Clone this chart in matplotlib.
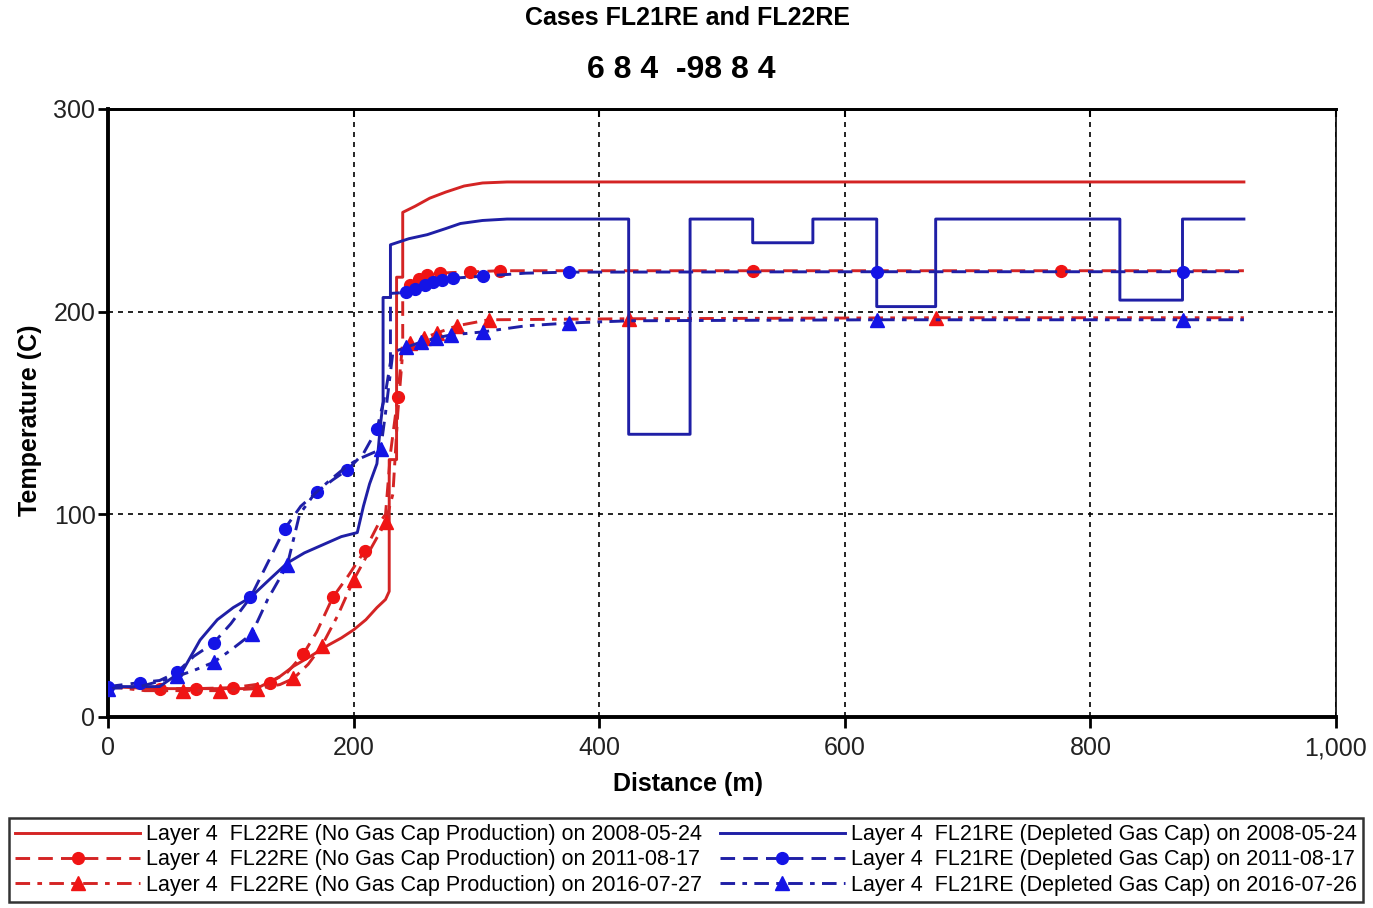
import numpy as np
import matplotlib
matplotlib.use("Agg")
import matplotlib.pyplot as plt
from matplotlib.ticker import FuncFormatter

# ---------------- data ----------------
title1 = "Cases FL21RE and FL22RE"
title2 = "6 8 4  -98 8 4"
xlabel = "Distance (m)"
ylabel = "Temperature (C)"

x_ticks = [0, 200, 400, 600, 800, 1000]
y_ticks = [0, 100, 200, 300]

labels = [
    "Layer 4  FL22RE (No Gas Cap Production) on 2008-05-24",
    "Layer 4  FL22RE (No Gas Cap Production) on 2011-08-17",
    "Layer 4  FL22RE (No Gas Cap Production) on 2016-07-27",
    "Layer 4  FL21RE (Depleted Gas Cap) on 2008-05-24",
    "Layer 4  FL21RE (Depleted Gas Cap) on 2011-08-17",
    "Layer 4  FL21RE (Depleted Gas Cap) on 2016-07-26",
]

# FL22RE 2008-05-24 (red solid)
r08_x = [0, 40, 80, 110, 124, 140, 151, 165, 178, 190, 200, 210, 219, 226, 229, 229,
         235, 235, 240, 240, 250, 262, 275, 290, 305, 325, 925]
r08_y = [15, 14, 14, 14, 15, 20, 25, 30, 35, 39, 43, 48, 54, 58, 62, 127,
         127, 217, 217, 249, 252, 256, 259, 262, 263.5, 264, 264]

# FL22RE 2011-08-17 (red dashed, circles)
r11_x = [0, 42, 72, 102, 132, 146, 159, 170, 183, 196, 209, 220, 226, 230, 236, 240,
         240, 246, 253, 260, 270, 280, 295, 319, 525, 776, 925]
r11_y = [15, 14, 14, 14.5, 17, 22, 31, 42, 59, 70, 82, 95, 100, 130, 158, 185,
         209, 213, 216, 218, 219, 219.3, 219.6, 220.2, 220.2, 220.2, 220.2]
r11_mk = [42, 72, 102, 132, 159, 183, 209, 236, 246, 253, 260, 270, 295, 319, 525, 776]

# FL22RE 2016-07-27 (red dash-dot, triangles)
r16_x = [0, 30, 61, 91, 121, 140, 151, 163, 174, 187, 200, 213, 226, 232, 236, 240,
         246, 257, 268, 284, 310, 424, 674, 925]
r16_y = [15, 13, 13, 13, 14, 16, 19, 26, 35, 50, 67.6, 82, 96, 110, 150, 180,
         184.5, 187, 189.5, 193, 196, 196.5, 197, 197]
r16_mk = [61, 91, 121, 151, 174, 200, 226, 246, 257, 268, 284, 310, 424, 674]

# FL21RE 2008-05-24 (blue solid)
b08_x = [0, 42, 61, 75, 89, 102, 116, 130, 146, 160, 175, 190, 203, 208, 213, 219,
         222, 224, 224, 230, 230, 245, 260, 275, 287, 305, 325, 424, 424, 474, 474,
         525, 525, 574, 574, 626, 626, 674, 674, 824, 824, 875, 875, 925]
b08_y = [15, 15, 23, 38, 48, 54, 59, 67, 76, 81, 85, 89, 91, 104, 115, 125,
         145, 155, 207, 207, 233, 236, 238, 241, 243.5, 245, 245.7, 245.7, 139.5, 139.5, 245.7,
         245.7, 234, 234, 245.7, 245.7, 202.5, 202.5, 245.7, 245.7, 205.7, 205.7, 245.7, 245.7]

# FL21RE 2011-08-17 (blue dashed, circles)
b11_x = [0, 26, 42, 56, 70, 86, 100, 116, 130, 144, 157, 170, 183, 195, 208, 219,
         226, 230, 230, 243, 250, 258, 265, 272, 281, 305, 340, 375, 626, 875, 925]
b11_y = [15, 17, 18, 22, 30, 36.5, 46, 59, 76, 93, 104, 111, 117, 122, 130, 142,
         160, 175, 209, 209.5, 211, 213, 214.5, 215.5, 216.5, 217.5, 219, 219.5, 219.7, 219.7, 219.7]
b11_mk = [0, 26, 56, 86, 116, 144, 170, 195, 219, 243, 250, 258, 265, 272, 281, 305, 375, 626, 875]

# FL21RE 2016-07-26 (blue dash-dot, triangles)
b16_x = [0, 26, 56, 70, 86, 100, 117, 130, 146, 156, 168, 181, 193, 203, 222, 226,
         232, 243, 255, 267, 279, 305, 340, 375, 425, 626, 875, 925]
b16_y = [14, 15, 20, 23, 27, 33, 41, 58, 75, 100, 110, 117, 123, 127, 132, 150,
         180, 182.5, 185, 187, 188.5, 190, 193, 194.4, 195.5, 196, 196, 196]
b16_mk = [0, 56, 86, 117, 146, 222, 243, 255, 267, 279, 305, 375, 626, 875]

# ---------------- styling ----------------
RED_L, RED_M = "#d42424", "#f01414"
BLUE_L, BLUE_M = "#1f1fa6", "#1414e6"
SANS = ["Liberation Sans", "DejaVu Sans"]

fig = plt.figure(figsize=(13.73, 9.08), dpi=100)
ax = fig.add_axes([108 / 1373, 1 - 717 / 908, (1336 - 108) / 1373, (717 - 109) / 908])

dash = (0, (5, 2.8))
dashdot = (0, (5, 2.5, 1.6, 2.5))
LW = 2.1


def mk_mask(xs, mk):
    xs = np.asarray(xs, dtype=float)
    mask = np.zeros(len(xs), dtype=bool)
    for v in mk:
        idx = np.where(np.isclose(xs, v))[0]
        if len(idx):
            mask[idx[-1]] = True
    return mask.tolist()


handles = []
h, = ax.plot(r08_x, r08_y, color=RED_L, lw=LW, ls="-", label=labels[0], zorder=3)
handles.append(h)
h, = ax.plot(r11_x, r11_y, color=RED_L, lw=LW, ls=dash, marker="o", ms=8.5,
             mfc=RED_M, mec=RED_M, markevery=mk_mask(r11_x, r11_mk), label=labels[1], zorder=3)
handles.append(h)
h, = ax.plot(r16_x, r16_y, color=RED_L, lw=LW, ls=dashdot, marker="^", ms=9.5,
             mfc=RED_M, mec=RED_M, markevery=mk_mask(r16_x, r16_mk), label=labels[2], zorder=3)
handles.append(h)
h, = ax.plot(b08_x, b08_y, color=BLUE_L, lw=LW, ls="-", label=labels[3], zorder=4)
handles.append(h)
h, = ax.plot(b11_x, b11_y, color=BLUE_L, lw=LW, ls=dash, marker="o", ms=8.5,
             mfc=BLUE_M, mec=BLUE_M, markevery=mk_mask(b11_x, b11_mk), label=labels[4], zorder=4)
handles.append(h)
h, = ax.plot(b16_x, b16_y, color=BLUE_L, lw=LW, ls=dashdot, marker="^", ms=9.5,
             mfc=BLUE_M, mec=BLUE_M, markevery=mk_mask(b16_x, b16_mk), label=labels[5], zorder=4)
handles.append(h)

ax.set_xlim(x_ticks[0], x_ticks[-1])
ax.set_ylim(y_ticks[0], y_ticks[-1])
ax.set_xticks(x_ticks)
ax.set_yticks(y_ticks)
ax.xaxis.set_major_formatter(FuncFormatter(lambda v, p: f"{int(v):,}"))
ax.grid(True, color="black", ls=(0, (3, 3)), lw=1.2, zorder=1)

for lab in ax.get_xticklabels() + ax.get_yticklabels():
    lab.set_family(SANS)
    lab.set_fontsize(18)
    lab.set_color("#222222")
ax.tick_params(axis="x", direction="out", length=8, width=2, pad=6)
ax.tick_params(axis="y", direction="out", length=7, width=2, pad=2)

sec = ax.secondary_xaxis("top")
sec.set_xticks(x_ticks)
sec.tick_params(direction="in", length=6, width=1.5, labeltop=False)
sec.spines["top"].set_linewidth(2)

for s in ["left", "bottom"]:
    ax.spines[s].set_linewidth(2.8)
ax.spines["top"].set_linewidth(2)
ax.spines["right"].set_linewidth(1.2)

fig.text(0.501, 1 - 18 / 908, title1, ha="center", va="center", fontsize=18,
         fontweight="bold", family=SANS)
fig.text(0.496, 1 - 70 / 908, title2, ha="center", va="center", fontsize=23,
         fontweight="bold", family=SANS)
fig.text(0.501, 1 - 784 / 908, xlabel, ha="center", va="center", fontsize=18,
         fontweight="bold", family=SANS)
fig.text(30 / 1373, 1 - 420 / 908, ylabel, ha="center", va="center", rotation=90,
         fontsize=18, fontweight="bold", family=SANS)

leg = fig.legend(handles=handles, loc="center", ncol=2,
                 bbox_to_anchor=(686 / 1373, 1 - 860 / 908), bbox_transform=fig.transFigure,
                 prop={"family": SANS, "size": 15.5},
                 frameon=True, fancybox=False, edgecolor="black", handlelength=5.8,
                 handletextpad=0.3, columnspacing=0.8, labelspacing=0.2,
                 borderpad=0.3, borderaxespad=0)
leg.get_frame().set_linewidth(1.8)

fig.savefig("out.png", dpi=100, facecolor="white")
